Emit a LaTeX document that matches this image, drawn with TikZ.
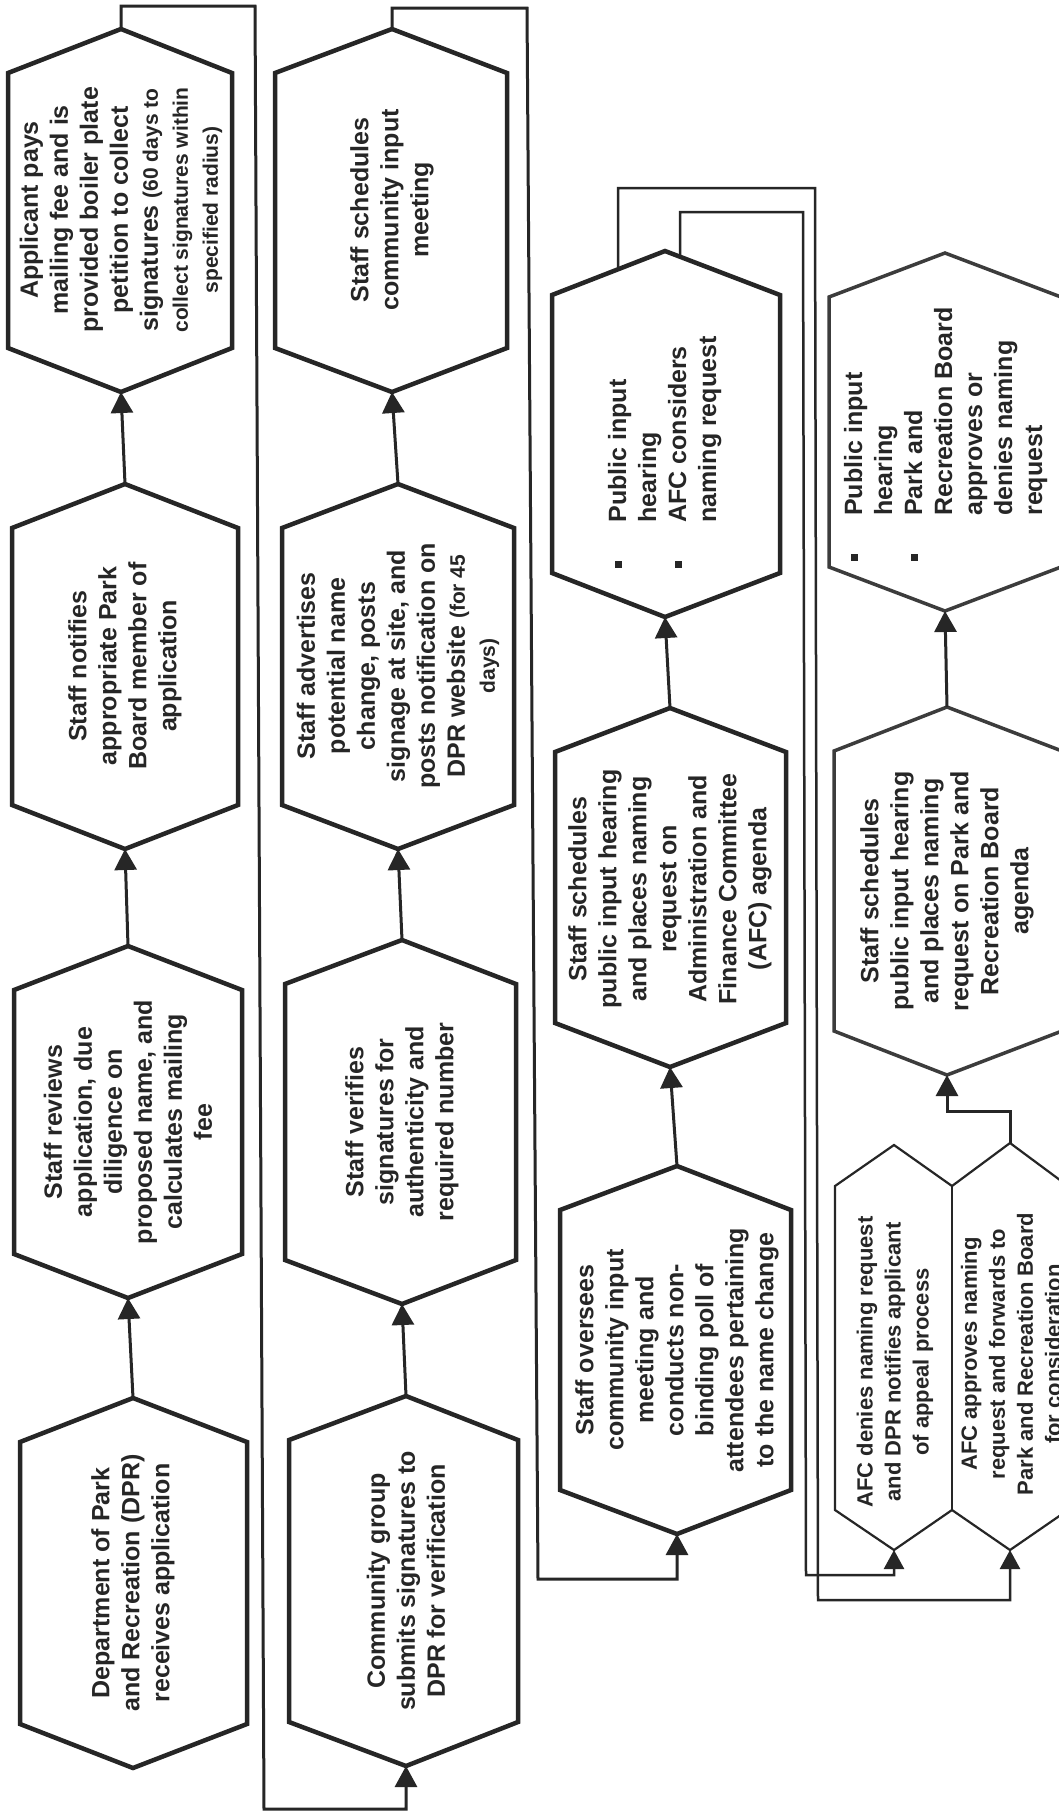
\documentclass[tikz,border=0pt]{standalone}
\usepackage{fontspec}
\setmainfont{Liberation Sans}
\usetikzlibrary{arrows.meta}
\definecolor{ink}{HTML}{262626}
% name, cx, top tip, bottom tip, left, right, style
\newcommand\hexa[7]{%
  \draw[#7] (#2,#3) -- (#6,#3+44) -- (#6,#4-44) -- (#2,#4) -- (#5,#4-44) -- (#5,#3+44) -- cycle;
  \coordinate (#1t) at (#2,#3);
  \coordinate (#1b) at (#2,#4);}
\newcommand\bul{\makebox[45pt][l]{\rule[4pt]{7pt}{7pt}}}
\newcommand\sm{\fontsize{21}{27}\selectfont}
\begin{document}
\begin{tikzpicture}[x=1pt,y=-1pt,line join=miter,
  hx/.style={draw=ink,line width=4.5pt},
  hxl/.style={draw=ink!90,line width=3.5pt},
  hxt/.style={draw=ink,line width=2.2pt},
  txt/.style={rotate=90,align=center,inner sep=0pt,text=ink,font=\fontsize{25}{30}\selectfont\bfseries},
  stxt/.style={rotate=90,align=center,inner sep=0pt,text=ink,font=\fontsize{22}{28}\selectfont\bfseries},
  arr/.style={draw=ink,line width=3pt,-{Triangle[length=21pt,width=22pt]}},
  thin/.style={draw=ink,line width=2.5pt}]
\fill[white] (0,0) rectangle (1059,1816);
\useasboundingbox (0,0) rectangle (1059,1816);
\clip (0,0) rectangle (1059,1816);

% ---------- column 1 ----------
\hexa{h4}{121}{29}{392}{8}{232}{hx}
\hexa{h3}{125}{484}{849}{12}{238}{hx}
\hexa{h2}{128}{946}{1298}{14}{242}{hx}
\hexa{h1}{133}{1398}{1768}{20}{247}{hx}
\node[txt] (n1) at (133,1583) {Department of Park\\and Recreation (DPR)\\receives application};
\node[txt] (n2) at (128,1122) {Staff reviews\\application, due\\diligence on\\proposed name, and\\calculates mailing\\fee};
\node[txt] (n3) at (125,666) {Staff notifies\\appropriate Park\\Board member of\\application};
\node[txt] (n4) at (121,210) {Applicant pays\\mailing fee and is\\provided boiler plate\\petition to collect\\signatures {\sm (60 days to}\\{\sm collect signatures within}\\{\sm specified radius)}};

% ---------- column 2 ----------
\hexa{h8}{392}{29}{392}{275}{507}{hx}
\hexa{h7}{398}{484}{849}{282}{514}{hx}
\hexa{h6}{402}{940}{1304}{285}{516}{hx}
\hexa{h5}{406}{1396}{1766}{289}{518}{hx}
\node[txt] (n5) at (406,1581) {Community group\\submits signatures to\\DPR for verification};
\node[txt] (n6) at (402,1122) {Staff verifies\\signatures for\\authenticity and\\required number};
\node[txt] (n7) at (398,666) {Staff advertises\\potential name\\change, posts\\signage at site, and\\posts notification on\\DPR website {\sm (for 45}\\{\sm days)}};
\node[txt] (n8) at (392,210) {Staff schedules\\community input\\meeting};

% ---------- column 3 ----------
\hexa{h11}{665}{251}{617}{552}{780}{hx}
\hexa{h10}{670}{708}{1067}{555}{786}{hx}
\hexa{h9}{677}{1166}{1534}{560}{791}{hx}
\node[txt] (n9) at (677,1350) {Staff oversees\\community input\\meeting and\\conducts non-\\binding poll of\\attendees pertaining\\to the name change};
\node[txt] (n10) at (670,889) {Staff schedules\\public input hearing\\and places naming\\request on\\Administration and\\Finance Committee\\(AFC) agenda};
\node[rotate=90,inner sep=0pt,text=ink,font=\fontsize{25}{30}\selectfont\bfseries] (n11) at (665,452)
  {\begin{tabular}{@{}l@{}l@{}}\bul&Public input\\&hearing\\\bul&AFC considers\\&naming request\end{tabular}};

% ---------- column 4 ----------
\hexa{h14}{945}{253}{611}{829}{1061}{hxl}
\hexa{h13}{947}{707}{1075}{834}{1062}{hxl}
\draw[hxt] (894,1145) -- (952,1186) -- (1010,1143) -- (1068,1186) -- (1068,1510) -- (1010,1550)
  -- (952,1510) -- (894,1550) -- (835,1510) -- (835,1186) -- cycle;
\draw[hxt] (952,1186) -- (952,1510);
\coordinate (afcdt) at (894,1145);
\coordinate (afcdb) at (894,1550);
\coordinate (afcat) at (1010,1143);
\coordinate (afcab) at (1010,1550);
\node[rotate=90,inner sep=0pt,text=ink,font=\fontsize{25}{30}\selectfont\bfseries] (n14) at (946,434)
  {\begin{tabular}{@{}l@{}l@{}}\bul&Public input\\&hearing\\\bul&Park and\\&Recreation Board\\&approves or\\&denies naming\\&request\end{tabular}};
\node[txt] (n13) at (947,891) {Staff schedules\\public input hearing\\and places naming\\request on Park and\\Recreation Board\\agenda};
\node[stxt] (n12a) at (895,1362) {AFC denies naming request\\and DPR notifies applicant\\of appeal process};
\node[stxt] (n12b) at (1011,1354) {AFC approves naming\\request and forwards to\\Park and Recreation Board\\for consideration};

% ---------- connectors ----------
\draw[arr] (h1t) -- (h2b);
\draw[arr] (h2t) -- (h3b);
\draw[arr] (h3t) -- (h4b);
\coordinate (l1a) at (121,6);
\coordinate (l1b) at (255,6);
\coordinate (l1c) at (264,1809);
\coordinate (l1d) at (406,1809);
\draw[arr] (h4t) -- (l1a) -- (l1b) -- (l1c) -- (l1d) -- (h5b);

\draw[arr] (h5t) -- (h6b);
\draw[arr] (h6t) -- (h7b);
\draw[arr] (h7t) -- (h8b);
\coordinate (l2a) at (392,8);
\coordinate (l2b) at (527,8);
\coordinate (l2c) at (538,1579);
\coordinate (l2d) at (677,1579);
\draw[arr] (h8t) -- (l2a) -- (l2b) -- (l2c) -- (l2d) -- (h9b);

\draw[arr] (h9t) -- (h10b);
\draw[arr] (h10t) -- (h11b);

\coordinate (h11i) at (680,257);
\coordinate (i1) at (680,212);
\coordinate (i2) at (803,212);
\coordinate (i3) at (806,1575);
\coordinate (i4) at (894,1575);
\draw[thin,-{Triangle[length=19pt,width=20pt]}] (h11i) -- (i1) -- (i2) -- (i3) -- (i4) -- (afcdb);
\coordinate (h11o) at (618,269);
\coordinate (o1) at (618,188);
\coordinate (o2) at (815,188);
\coordinate (o3) at (818,1600);
\coordinate (o4) at (1010,1600);
\draw[thin,-{Triangle[length=19pt,width=20pt]}] (h11o) -- (o1) -- (o2) -- (o3) -- (o4) -- (afcab);

\coordinate (j1) at (1010,1111);
\coordinate (j2) at (947,1111);
\draw[arr] (afcat) -- (j1) -- (j2) -- (h13b);
\draw[arr] (h13t) -- (h14b);
\end{tikzpicture}
\end{document}
